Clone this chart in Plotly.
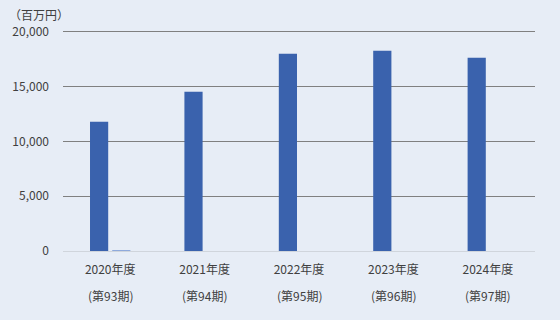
import plotly.graph_objects as go

categories = ["2020年度", "2021年度", "2022年度", "2023年度", "2024年度"]
periods = ["(第93期)", "(第94期)", "(第95期)", "(第96期)", "(第97期)"]
series_main = [11800, 14550, 18000, 18280, 17650]
series_sub = [90, 0, 0, 0, 0]
y_ticks = [0, 5000, 10000, 15000, 20000]
y_ticktext = ["0", "5,000", "10,000", "15,000", "20,000"]

font_family = "Noto Sans CJK JP, Noto Sans, sans-serif"
txt_color = "#404040"
bg = "#E7EDF6"

fig = go.Figure()
fig.add_bar(x=categories, y=series_main, marker_color="#3A62AD", marker_line_width=0)
fig.add_bar(x=categories, y=series_sub, marker_color="#8FAADC", marker_line_width=0)

for c, p in zip(categories, periods):
    fig.add_annotation(x=c, xref="x", y=0, yref="paper", yshift=-44, yanchor="middle",
                       text=p, showarrow=False,
                       font=dict(size=12, color=txt_color, family=font_family))

fig.add_annotation(x=-0.118, xref="paper", y=1, yref="paper", yshift=4, xanchor="left",
                   yanchor="bottom", text="（百万円）", showarrow=False,
                   font=dict(size=12, color=txt_color, family=font_family))

fig.update_layout(
    width=560, height=320,
    margin=dict(l=60, r=25, t=29, b=69),
    paper_bgcolor=bg, plot_bgcolor=bg,
    barmode="group", bargap=0.53, bargroupgap=0.18,
    showlegend=False,
    font=dict(family=font_family, size=12, color=txt_color),
)
fig.update_xaxes(showgrid=False, showline=True, linecolor="#D0D5DC", linewidth=1,
                 ticks="", tickfont=dict(size=12, color=txt_color), ticklabelstandoff=8)
fig.update_yaxes(range=[0, 20270], tickvals=y_ticks, ticktext=y_ticktext,
                 showgrid=True, gridcolor="#808080", gridwidth=1, zeroline=False,
                 ticks="", ticklabelstandoff=13, tickfont=dict(size=12, color=txt_color))

fig.write_html("out.html")
